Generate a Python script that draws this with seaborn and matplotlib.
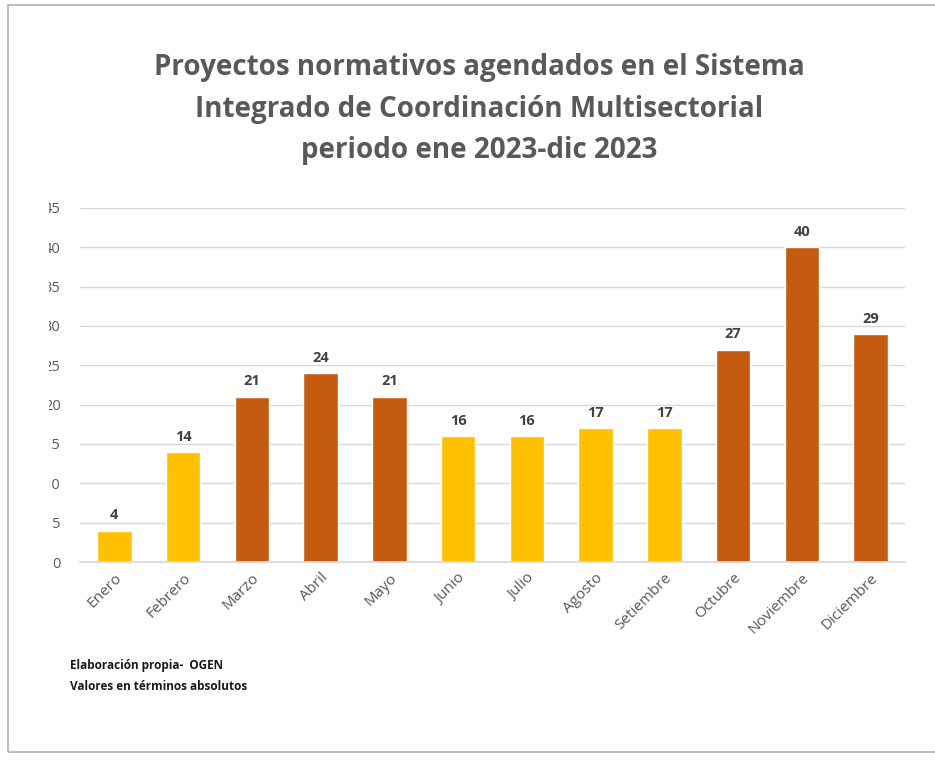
import matplotlib
matplotlib.use('Agg')
import matplotlib.pyplot as plt
import seaborn as sns
import pandas as pd
from matplotlib.patches import Rectangle

meses = ["Enero", "Febrero", "Marzo", "Abril", "Mayo", "Junio", "Julio",
         "Agosto", "Setiembre", "Octubre", "Noviembre", "Diciembre"]
proyectos = [4, 14, 21, 24, 21, 16, 16, 17, 17, 27, 40, 29]
grupo = ["bajo", "bajo", "alto", "alto", "alto", "bajo", "bajo",
         "bajo", "bajo", "alto", "alto", "alto"]
yticks = list(range(0, 50, 5))

titulo = ("Proyectos normativos agendados en el Sistema\n"
          "Integrado de Coordinación Multisectorial\n"
          "periodo ene 2023-dic 2023")
nota = "Elaboración propia-  OGEN\nValores en términos absolutos"

colores = {"bajo": "#FFC000", "alto": "#C55A11"}

sns.set_theme(style="white")
plt.rcParams['font.family'] = ['Open Sans', 'DejaVu Sans']

df = pd.DataFrame({"mes": meses, "n": proyectos, "grupo": grupo})

W, H = 935, 762
fig = plt.figure(figsize=(W / 100, H / 100), dpi=100)
ax = fig.add_axes([80 / W, 1 - 562 / H, 825 / W, 354 / H])

sns.barplot(data=df, x="mes", y="n", hue="grupo", palette=colores,
            dodge=False, width=0.5, ax=ax, legend=False, saturation=1)

ax.set_ylim(0, 45)
ax.set_xlim(-0.5, 11.5)
ax.set_yticks(yticks)
ax.yaxis.grid(True, color="#D9D9D9", linewidth=1)
ax.set_axisbelow(True)
for s in ["top", "right", "left"]:
    ax.spines[s].set_visible(False)
ax.spines["bottom"].set_color("#D9D9D9")
ax.set_xlabel("")
ax.set_ylabel("")
ax.tick_params(axis="both", length=0, colors="#595959", labelsize=10.5)
ax.tick_params(axis="y", pad=14)
ax.tick_params(axis="x", labelsize=11, pad=6)
plt.setp(ax.get_xticklabels(), rotation=45, ha="right",
         rotation_mode="anchor")

for cont in ax.containers:
    ax.bar_label(cont, fontsize=10.5, fontweight="bold", color="#404040",
                 padding=6)

fig.text(479 / W, 1 - 109 / H, titulo, ha="center", va="center",
         fontsize=20, fontweight="bold", color="#595959",
         linespacing=1.55)
fig.text(70 / W, 1 - 676 / H, nota, ha="left", va="center",
         fontsize=8.5, fontweight="bold", color="#1a1a1a", linespacing=1.7)

# marco del gráfico
fig.patches.append(Rectangle((8 / W, 1 - 752 / H), 1.2, 747 / H,
                             transform=fig.transFigure, fill=False,
                             edgecolor="#BFBFBF", linewidth=1.5))

# borde izquierdo que corta las etiquetas del eje y
ax.add_patch(Rectangle((10 / W, 1 - 600 / H), 39 / W, 420 / H,
                       transform=fig.transFigure, facecolor="white",
                       edgecolor="none", clip_on=False, zorder=10))

fig.savefig("out.png", dpi=100)
